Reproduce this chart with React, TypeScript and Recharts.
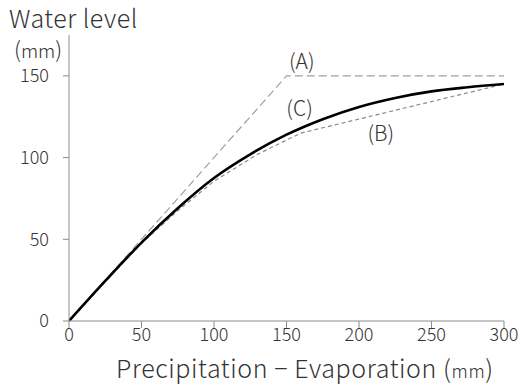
import { LineChart, Line, XAxis, YAxis, ReferenceDot } from 'recharts';

const xTicks = [0, 50, 100, 150, 200, 250, 300];
const yTicks = [0, 50, 100, 150];

// (A) upper bound
const aX = [0, 150, 300];
const aY = [0, 150, 150];

// (B) piecewise estimate
const bX = [0, 25, 50, 75, 100, 130, 160, 300];
const bY = [0, 24, 47.5, 67.5, 85.5, 102, 115, 145];

// (C) observed curve
const cX = [0, 25, 50, 75, 100, 125, 150, 175, 200, 225, 250, 275, 300];
const cY = [0, 24.5, 48, 69, 87.5, 102, 114, 123.5, 131, 136.5, 140.5, 143, 145];

const toRows = (xs: number[], ys: number[]) => xs.map((x, i) => ({ x, y: ys[i] }));

const dataA = toRows(aX, aY);
const dataB = toRows(bX, bY);
const dataC = toRows(cX, cY);

const FONT = '"Noto Sans CJK JP", "Noto Sans", sans-serif';
const AXIS = '#8c8c8c';
const TEXT = '#333333';

const curveLabel = (text: string) => (props: any) => {
  const { viewBox } = props;
  return (
    <text x={viewBox.x} y={viewBox.y} textAnchor="middle" fontSize={21} fontWeight={300} fill={TEXT} fontFamily={FONT}>
      {text}
    </text>
  );
};

export default function App() {
  return (
    <div style={{ position: 'absolute', left: 0, top: 0, width: 526, height: 387, background: '#fff', fontFamily: FONT, fontWeight: 300 }}>
      <div style={{ position: 'absolute', left: 9, top: 0, fontSize: 25, letterSpacing: 0.5, color: TEXT, lineHeight: '34px' }}>Water level</div>
      <div style={{ position: 'absolute', left: 14, top: 33, fontSize: 22, color: TEXT, lineHeight: '30px' }}>
        (<span style={{ fontSize: 19 }}>mm</span>)
      </div>
      <div style={{ position: 'absolute', left: 116, top: 350, fontSize: 25, letterSpacing: 0.6, color: TEXT, lineHeight: '34px', whiteSpace: 'nowrap' }}>
        Precipitation − Evaporation (<span style={{ fontSize: 18 }}>mm</span>)
      </div>
      <LineChart width={526} height={387} margin={{ top: 35, right: 22, bottom: 36, left: 9 }}>
        <XAxis
          type="number"
          dataKey="x"
          domain={[0, 300]}
          ticks={xTicks}
          allowDataOverflow
          height={30}
          tickSize={7}
          tickMargin={0}
          stroke={AXIS}
          tick={{ fill: TEXT, fontSize: 18, fontFamily: FONT, fontWeight: 300 }}
        />
        <YAxis
          type="number"
          domain={[0, 175]}
          ticks={yTicks}
          allowDataOverflow
          width={60}
          tickSize={6}
          tickMargin={14}
          stroke={AXIS}
          tick={{ fill: TEXT, fontSize: 18, fontFamily: FONT, fontWeight: 300 }}
        />
        <Line
          data={dataA}
          dataKey="y"
          type="linear"
          stroke="#a0a0a0"
          strokeWidth={1.2}
          strokeDasharray="8 4"
          dot={false}
          isAnimationActive={false}
        />
        <Line
          data={dataB}
          dataKey="y"
          type="linear"
          stroke="#8a8a8a"
          strokeWidth={1.2}
          strokeDasharray="4 3"
          dot={false}
          isAnimationActive={false}
        />
        <Line
          data={dataC}
          dataKey="y"
          type="monotone"
          stroke="#000000"
          strokeWidth={2.6}
          dot={false}
          isAnimationActive={false}
        />
        <ReferenceDot x={160.5} y={154} r={0} fill="none" stroke="none" label={curveLabel('(A)')} />
        <ReferenceDot x={159} y={125.5} r={0} fill="none" stroke="none" label={curveLabel('(C)')} />
        <ReferenceDot x={215} y={110} r={0} fill="none" stroke="none" label={curveLabel('(B)')} />
      </LineChart>
    </div>
  );
}
